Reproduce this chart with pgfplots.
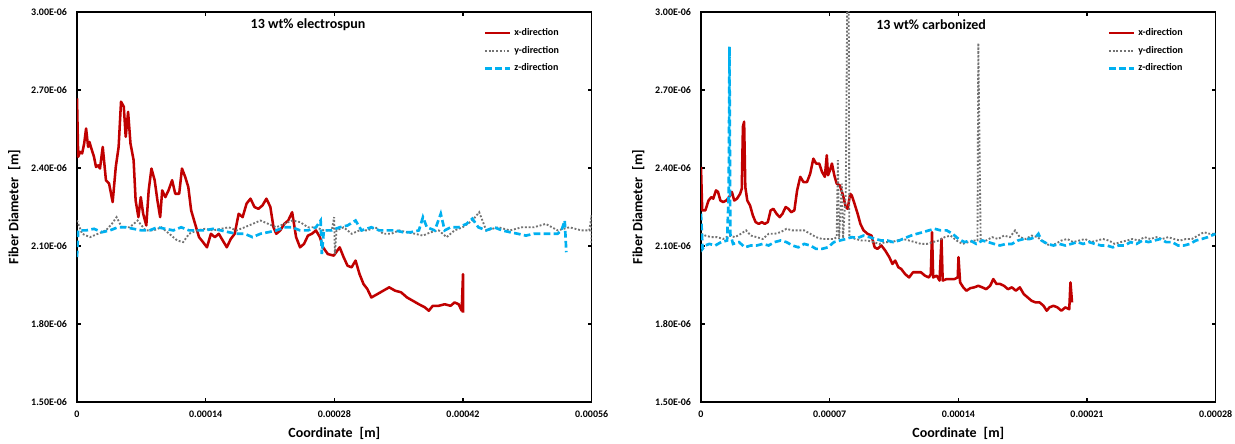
\documentclass[border=0pt]{standalone}
\usepackage{fontspec}
\setmainfont{Carlito}
\usepackage{pgfplots}
\pgfplotsset{compat=1.18}

\definecolor{xred}{RGB}{192,0,0}
\definecolor{ygray}{RGB}{128,128,128}
\definecolor{zcyan}{RGB}{0,176,240}

% diameters stored in micrometres, coordinates in micrometres
\pgfplotsset{
  fiberaxis/.style={
    scale only axis, width=386pt, height=292.5pt,
    xmin=0, ymin=1.5, ymax=3.0,
    ytick={1.5,1.8,2.1,2.4,2.7,3.0},
    yticklabels={1.50E-06,1.80E-06,2.10E-06,2.40E-06,2.70E-06,3.00E-06},
    tick align=inside, major tick length=3pt,
    tick style={black, line width=0.9pt},
    axis line style={line width=1.2pt},
    tick label style={font=\bfseries\fontsize{7.5}{9}\selectfont},
    yticklabel style={xshift=-4pt},
    xticklabel style={yshift=-3pt},
    xlabel={Coordinate\enspace[m]},
    ylabel={Fiber Diameter\enspace[m]},
    every axis x label/.style={at={(axis description cs:0.5,-0.08)}, anchor=center,
      font=\bfseries\fontsize{10.5}{12}\selectfont},
    every axis y label/.style={at={(axis description cs:-0.122,0.5)}, rotate=90, anchor=center,
      font=\bfseries\fontsize{10.5}{12}\selectfont},
    legend style={at={(rel axis cs:0.95,0.972)}, anchor=north east, draw=none, fill=none,
      font=\bfseries\fontsize{7.5}{8}\selectfont, row sep=2.5pt},
    legend cell align=left,
    legend image code/.code={\draw[##1] (0pt,0pt) -- (19pt,0pt);},
  },
  xdir/.style={xred, line width=1.9pt, line join=round},
  ydir/.style={ygray!90!black, line width=1.4pt, dash pattern=on 1.4pt off 1.4pt},
  zdir/.style={zcyan, line width=2pt, dash pattern=on 5pt off 2.5pt},
}

\begin{document}
\begin{tikzpicture}
\path[use as bounding box] (-57.75pt,-30.75pt) rectangle (868.5pt,301.5pt);

% ---------------- electrospun ----------------
\begin{axis}[fiberaxis, at={(0pt,0pt)}, anchor=south west,
  xmax=560, xtick={0,140,280,420,560},
  xticklabels={0,0.00014,0.00028,0.00042,0.00056}]
\addplot[xdir] coordinates {
(0,2.668) (1.3,2.443) (3.4,2.462) (5.6,2.456) (7.8,2.494) (9.9,2.552) (12.1,2.481) (13.6,2.500) (15.1,2.481)
(18.5,2.443) (20.7,2.404) (23.0,2.410) (25.0,2.398) (28.0,2.481) (31.5,2.353) (34.9,2.340) (38.8,2.269)
(42.2,2.404) (45.3,2.481) (47.9,2.655) (50.9,2.636) (53.0,2.520) (55.6,2.616) (58.2,2.494)
(61.6,2.430) (63.8,2.275) (66.8,2.211) (69.4,2.288) (72.0,2.224) (75.4,2.179) (78.0,2.314)
(81.0,2.398) (84.5,2.353) (87.5,2.275) (90.5,2.211) (92.7,2.314) (96.1,2.288) (99.6,2.314)
(103.5,2.353) (106.9,2.301) (111.2,2.301) (114.2,2.398) (117.7,2.366) (121.1,2.327)
(124.2,2.237) (128.5,2.185) (132.8,2.134) (137.1,2.115) (141.4,2.095) (145.7,2.147)
(150.0,2.134) (154.3,2.147) (158.6,2.121) (163.0,2.095) (167.3,2.127) (171.6,2.147)
(175.9,2.224) (180.2,2.211) (184.5,2.263) (188.8,2.282) (193.1,2.250) (197.4,2.243)
(201.8,2.256) (206.1,2.282) (210.4,2.250) (213.8,2.172) (216.8,2.147) (221.2,2.160)
(225.5,2.185) (229.8,2.198) (234.1,2.230) (238.4,2.134) (242.7,2.095) (247.0,2.108)
(251.3,2.140) (255.6,2.147) (260.0,2.160) (264.3,2.134) (267.7,2.095) (272.9,2.069)
(279.4,2.063) (285.8,2.095) (290.1,2.057) (294.4,2.024) (298.8,2.018) (303.1,2.044)
(307.4,1.992) (311.7,1.954) (316.0,1.934) (320.3,1.902) (326.8,1.915) (333.2,1.928)
(339.7,1.941) (346.2,1.928) (352.6,1.922) (359.1,1.902) (365.6,1.889) (372.0,1.876)
(378.5,1.864) (382.8,1.851) (387.1,1.870) (393.6,1.870) (400.1,1.876) (406.5,1.870)
(410.8,1.883) (415.2,1.876) (418.6,1.851) (420.0,1.992) (420.0,1.844)
};
\addlegendentry{x-direction}
\addplot[ydir] coordinates {
(0,2.198) (5.6,2.147) (14.2,2.134) (22.8,2.147) (31.5,2.160) (37.9,2.185) (43.1,2.211)
(48.7,2.172) (57.3,2.172) (66.0,2.198) (74.6,2.160) (83.2,2.160) (91.8,2.172) (100.4,2.147)
(109.1,2.121) (115.5,2.115) (122.0,2.147) (130.6,2.160) (139.2,2.166) (147.9,2.160)
(156.5,2.166) (165.1,2.172) (173.7,2.160) (182.4,2.172) (191.0,2.185) (199.6,2.198)
(208.2,2.185) (216.8,2.172) (225.5,2.185) (234.1,2.198) (242.7,2.192) (251.3,2.172)
(260.0,2.172) (268.6,2.160) (277.2,2.160) (279.8,2.211) (280.6,2.069) (282.4,2.160)
(290.1,2.172) (298.8,2.147) (307.4,2.160) (316.0,2.160) (324.6,2.172) (333.2,2.147)
(341.9,2.147) (350.5,2.160) (359.1,2.153) (367.7,2.147) (376.4,2.140) (385.0,2.153)
(393.6,2.160) (402.2,2.134) (410.8,2.160) (419.5,2.172) (430.2,2.198) (437.6,2.230)
(445.3,2.160) (458.3,2.172) (471.2,2.160) (484.1,2.172) (497.1,2.172) (510.0,2.185)
(523.0,2.160) (535.9,2.172) (548.8,2.160) (557.4,2.160) (560,2.218) (560,2.108)
};
\addlegendentry{y-direction}
\addplot[zdir] coordinates {
(0,2.057) (1.3,2.160) (9.9,2.160) (18.5,2.166) (27.2,2.153) (35.8,2.160) (44.4,2.172)
(53.0,2.172) (61.6,2.166) (70.3,2.160) (78.9,2.160) (87.5,2.172) (96.1,2.166) (104.8,2.160)
(113.4,2.172) (122.0,2.160) (130.6,2.160) (139.2,2.160) (147.9,2.166) (156.5,2.160)
(165.1,2.153) (173.7,2.147) (182.4,2.147) (191.0,2.134) (199.6,2.147) (208.2,2.153)
(216.8,2.160) (225.5,2.172) (234.1,2.172) (242.7,2.160) (251.3,2.160) (260.0,2.172)
(265.1,2.198) (266.4,2.069) (268.6,2.160) (277.2,2.160) (285.8,2.172) (294.4,2.179)
(303.1,2.198) (309.5,2.160) (320.3,2.172) (328.9,2.160) (337.5,2.160) (346.2,2.160)
(354.8,2.153) (363.4,2.153) (372.0,2.160) (376.4,2.211) (380.7,2.172) (389.3,2.160)
(395.8,2.224) (400.1,2.160) (406.5,2.172) (415.2,2.172) (423.8,2.185) (430.2,2.205)
(436.7,2.172) (445.3,2.160) (453.9,2.172) (462.6,2.160) (471.2,2.153) (479.8,2.147)
(488.4,2.140) (497.1,2.147) (505.7,2.147) (514.3,2.147) (522.9,2.147) (527.2,2.160)
(530.7,2.198) (532.4,2.076)
};
\addlegendentry{z-direction}
\node[font=\bfseries\fontsize{10.5}{12}\selectfont] at (rel axis cs:0.449,0.967) {13 wt\% electrospun};
\end{axis}

% ---------------- carbonized ----------------
\begin{axis}[fiberaxis, at={(468pt,0pt)}, anchor=south west,
  xmax=280, xtick={0,70,140,210,280},
  xticklabels={0,0.00007,0.00014,0.00021,0.00028}]
\addplot[xdir] coordinates {
(0,2.404) (0.65,2.237) (2.37,2.237) (4.09,2.275) (5.60,2.288) (6.67,2.282) (8.18,2.314)
(9.25,2.308) (10.54,2.275) (12.05,2.269) (13.77,2.275) (15.28,2.288) (16.79,2.308)
(18.08,2.275) (19.58,2.282) (21.30,2.301) (22.17,2.320) (22.81,2.559) (23.46,2.578)
(24.10,2.327) (25.18,2.275) (26.68,2.256) (28.19,2.218) (29.70,2.192) (31.42,2.185)
(33.14,2.192) (34.65,2.185) (36.37,2.192) (37.88,2.237) (39.38,2.243) (41.10,2.224)
(42.82,2.211) (44.33,2.224) (46.05,2.250) (47.56,2.243) (49.07,2.230) (50.79,2.237)
(52.29,2.314) (54.01,2.366) (55.74,2.346) (57.67,2.346) (59.40,2.378) (61.12,2.436)
(62.62,2.417) (64.34,2.417) (65.85,2.385) (67.36,2.366) (68.43,2.449) (69.08,2.372)
(70.16,2.391) (71.23,2.417) (72.52,2.372) (73.81,2.340) (75.54,2.333) (77.26,2.295)
(78.76,2.250) (79.84,2.243) (81.13,2.301) (81.99,2.295) (83.50,2.263) (85.22,2.224)
(86.72,2.185) (88.45,2.160) (90.60,2.147) (92.75,2.140) (94.47,2.095) (95.98,2.089)
(98.13,2.102) (100.28,2.082) (102.44,2.057) (104.16,2.031) (105.66,2.044) (107.38,2.018)
(108.89,2.012) (111.04,1.992) (113.20,1.979) (115.35,1.999) (117.50,1.999) (119.65,1.999)
(121.80,1.986) (123.96,1.979) (125.03,1.992) (125.68,2.153) (126.32,1.979) (128.26,1.986)
(129.77,1.967) (130.84,2.127) (131.49,1.967) (133.64,1.973) (135.79,1.973) (137.94,1.973)
(139.66,1.979) (140.09,2.057) (140.96,1.960) (142.68,1.941) (144.40,1.928) (146.55,1.938)
(148.70,1.941) (150.86,1.947) (153.01,1.941) (155.16,1.934) (157.31,1.947) (159.03,1.973)
(160.75,1.954) (162.69,1.954) (164.84,1.947) (166.99,1.934) (169.15,1.941) (171.30,1.928)
(173.45,1.941) (175.60,1.915) (177.75,1.902) (179.91,1.889) (182.06,1.883) (184.21,1.883)
(186.36,1.870) (188.08,1.851) (189.59,1.864) (191.74,1.870) (193.90,1.864) (196.05,1.851)
(198.20,1.864) (200.35,1.857) (201.00,1.960) (201.86,1.883)
};
\addlegendentry{x-direction}
\addplot[ydir] coordinates {
(0,2.147) (2.37,2.140) (5.60,2.134) (8.82,2.134) (12.05,2.127) (15.28,2.140) (18.51,2.134)
(21.74,2.147) (24.53,2.160) (27.12,2.140) (30.34,2.134) (33.57,2.127) (36.80,2.147)
(40.03,2.147) (43.26,2.153) (46.48,2.166) (49.71,2.160) (52.94,2.160) (56.17,2.160)
(59.40,2.147) (62.62,2.134) (65.85,2.127) (69.08,2.127) (72.31,2.127) (73.81,2.134)
(74.46,2.430) (75.10,2.127) (76.61,2.340) (77.26,2.130) (78.76,2.300) (79.84,3.300)
(80.27,3.300) (80.70,2.134) (84.14,2.127) (87.37,2.121) (90.60,2.121) (93.83,2.115)
(97.06,2.108) (100.28,2.115) (103.51,2.115) (106.74,2.121) (109.97,2.127) (113.20,2.121)
(116.42,2.115) (119.65,2.108) (122.88,2.108) (126.11,2.115) (129.34,2.121) (132.56,2.134)
(135.79,2.140) (139.02,2.121) (142.25,2.108) (145.48,2.115) (148.70,2.121) (150.42,2.121)
(150.86,2.880) (151.50,2.494) (152.15,2.121) (155.16,2.121) (158.39,2.134) (161.62,2.127)
(164.84,2.140) (168.07,2.134) (170.87,2.160) (173.45,2.134) (176.68,2.127) (179.91,2.140)
(183.14,2.134) (186.36,2.115) (189.59,2.102) (192.82,2.108) (196.05,2.121) (199.28,2.127)
(202.50,2.115) (205.73,2.121) (208.96,2.127) (212.19,2.115) (215.42,2.121) (218.64,2.127)
(221.87,2.121) (225.10,2.108) (228.33,2.115) (231.56,2.121) (234.78,2.127) (238.01,2.121)
(241.24,2.134) (244.47,2.127) (247.70,2.134) (250.92,2.127) (254.15,2.134) (257.38,2.127)
(260.61,2.121) (263.84,2.127) (267.06,2.127) (270.29,2.140) (273.52,2.153) (276.74,2.147)
(280,2.147)
};
\addlegendentry{y-direction}
\addplot[zdir] coordinates {
(0,2.224) (0.86,2.089) (2.37,2.102) (4.52,2.108) (7.75,2.102) (10.98,2.115) (14.20,2.121)
(15.06,2.301) (15.49,2.867) (15.92,2.147) (17.43,2.108) (20.66,2.115) (23.89,2.095)
(27.12,2.102) (30.34,2.102) (33.57,2.108) (36.80,2.102) (40.03,2.115) (43.26,2.121)
(46.48,2.115) (49.71,2.102) (52.94,2.095) (56.17,2.108) (59.40,2.102) (62.62,2.089)
(65.85,2.089) (69.08,2.095) (72.31,2.115) (75.54,2.121) (78.76,2.127) (81.99,2.134)
(85.22,2.131) (88.45,2.140) (91.68,2.134) (94.90,2.127) (98.13,2.121) (101.36,2.121)
(104.59,2.115) (107.82,2.121) (111.04,2.131) (114.27,2.140) (117.50,2.147) (120.73,2.153)
(123.96,2.160) (127.18,2.166) (130.41,2.160) (133.64,2.160) (136.87,2.147) (140.10,2.127)
(143.32,2.115) (146.55,2.121) (149.78,2.108) (153.01,2.121) (156.24,2.115) (159.46,2.108)
(162.69,2.102) (165.92,2.108) (169.15,2.108) (172.38,2.121) (175.60,2.127) (178.83,2.127)
(182.06,2.134) (183.57,2.147) (185.29,2.121) (188.52,2.108) (191.74,2.102) (194.97,2.108)
(198.20,2.102) (201.43,2.108) (204.66,2.115) (207.88,2.108) (211.11,2.115) (214.34,2.108)
(217.57,2.102) (220.80,2.102) (224.02,2.095) (227.25,2.102) (230.48,2.102) (233.71,2.115)
(236.94,2.108) (240.16,2.121) (243.39,2.115) (246.62,2.121) (249.85,2.127) (253.08,2.115)
(256.30,2.115) (259.53,2.102) (262.76,2.102) (265.99,2.108) (269.22,2.121) (272.44,2.127)
(275.67,2.134) (280,2.147)
};
\addlegendentry{z-direction}
\node[font=\bfseries\fontsize{10.5}{12}\selectfont] at (rel axis cs:0.447,0.967) {13 wt\% carbonized};
\end{axis}
\end{tikzpicture}
\end{document}
